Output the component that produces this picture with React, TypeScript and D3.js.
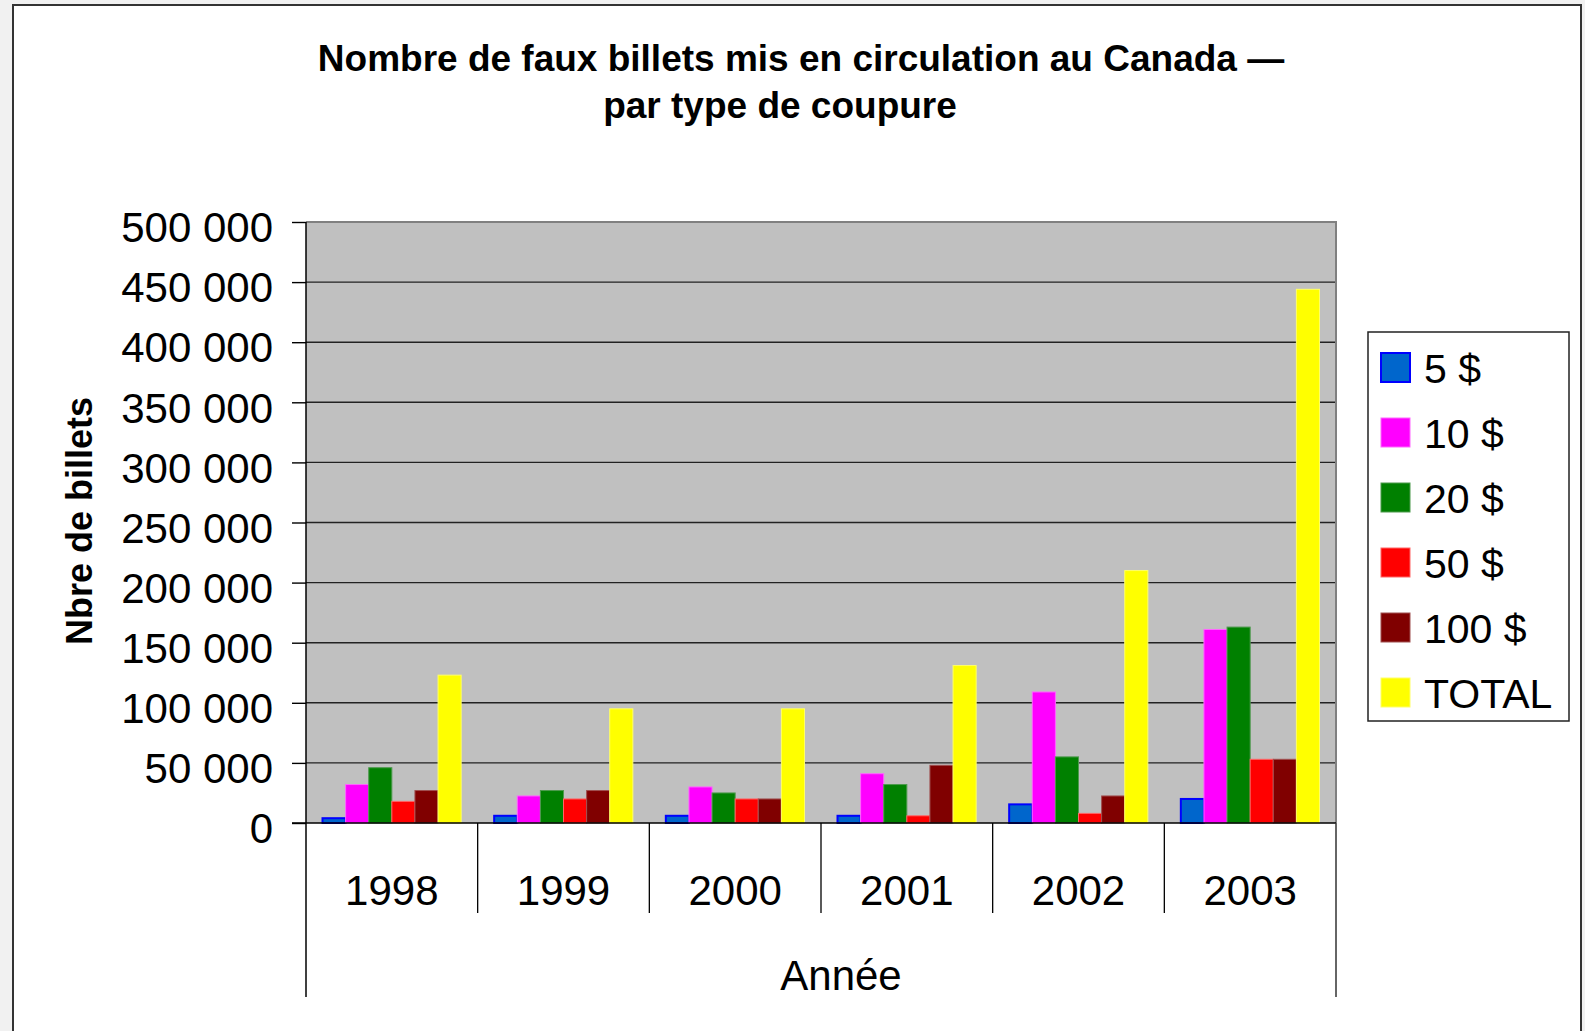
import React, { useRef, useEffect } from "react";
import * as d3 from "d3";

// data
const years = ["1998", "1999", "2000", "2001", "2002", "2003"];
const seriesNames = ["5 $", "10 $", "20 $", "50 $", "100 $", "TOTAL"];
const billets5 = [4000, 6000, 6000, 6000, 15500, 20000];
const billets10 = [32000, 22500, 30000, 41000, 109000, 161000];
const billets20 = [46000, 27000, 25000, 32000, 55000, 163000];
const billets50 = [18000, 20000, 20000, 6000, 8000, 53000];
const billets100 = [27000, 27000, 20000, 48000, 22500, 53000];
const billetsTotal = [123000, 95000, 95000, 131000, 210000, 444000];
const yTicks = [0, 50000, 100000, 150000, 200000, 250000, 300000, 350000, 400000, 450000, 500000];

const fills = ["#0066cc", "#ff00ff", "#008000", "#ff0000", "#800000", "#ffff00"];
const strokes = ["#0000ff", "#ff66ff", "#4d9a4d", "#ff6666", "#a05050", "#ffff66"];

const App = () => {
  const svgRef = useRef<SVGSVGElement>(null);

  useEffect(() => {
    const svg = d3.select(svgRef.current);
    svg.selectAll("*").remove();

    const W = 1585, H = 1031;
    const plot = { left: 306, right: 1336, top: 222, bottom: 823 };
    const font = "'Liberation Sans', Arial, sans-serif";

    const allSeries = [billets5, billets10, billets20, billets50, billets100, billetsTotal];
    const rows = years.map((yr, i) => ({
      year: yr,
      values: allSeries.map((s, k) => ({ k, v: s[i] })),
    }));

    // page background + chart frame
    svg.append("rect").attr("width", W).attr("height", H).attr("fill", "#f1f1f1");
    svg
      .append("rect")
      .attr("x", 13)
      .attr("y", 5)
      .attr("width", 1568)
      .attr("height", H + 20)
      .attr("fill", "white")
      .attr("stroke", "#333")
      .attr("stroke-width", 2);

    const x0 = d3.scaleBand().domain(years).range([plot.left, plot.right]).padding(0);
    const pad = 16.5;
    const x1 = d3
      .scaleBand<number>()
      .domain(d3.range(seriesNames.length))
      .range([pad, x0.bandwidth() - pad])
      .padding(0);
    const y = d3.scaleLinear().domain([0, 500000]).range([plot.bottom, plot.top]);

    const fmt = d3.formatLocale({ decimal: ",", thousands: " ", grouping: [3], currency: ["", " $"] }).format(",");

    // plot area
    svg
      .append("rect")
      .attr("x", plot.left)
      .attr("y", plot.top)
      .attr("width", plot.right - plot.left)
      .attr("height", plot.bottom - plot.top)
      .attr("fill", "#c0c0c0");

    // gridlines
    svg
      .append("g")
      .selectAll("line")
      .data(yTicks.filter((t) => t > 0 && t < 500000))
      .join("line")
      .attr("x1", plot.left)
      .attr("x2", plot.right)
      .attr("y1", (d) => y(d))
      .attr("y2", (d) => y(d))
      .attr("stroke", "#222")
      .attr("stroke-width", 1.4);

    // top + right border of the plot
    svg
      .append("path")
      .attr("d", `M${plot.left},${plot.top}H${plot.right}V${plot.bottom}`)
      .attr("fill", "none")
      .attr("stroke", "#808080")
      .attr("stroke-width", 2);

    // bars
    const groups = svg
      .append("g")
      .selectAll("g")
      .data(rows)
      .join("g")
      .attr("transform", (d) => `translate(${x0(d.year)},0)`);

    groups
      .selectAll("rect")
      .data((d) => d.values)
      .join("rect")
      .attr("x", (d) => x1(d.k)!)
      .attr("y", (d) => y(d.v))
      .attr("width", x1.bandwidth())
      .attr("height", (d) => plot.bottom - y(d.v))
      .attr("fill", (d) => fills[d.k])
      .attr("stroke", (d) => strokes[d.k])
      .attr("stroke-width", (d) => (d.k === 0 ? 2 : 1));

    // y axis
    const yAxis = svg
      .append("g")
      .attr("transform", `translate(${plot.left},0)`)
      .call(d3.axisLeft(y).tickValues(yTicks).tickFormat((d) => fmt(d as number)).tickSize(14).tickPadding(19));
    yAxis.select(".domain").remove();
    yAxis.selectAll("line").attr("stroke", "#000").attr("stroke-width", 1.4);
    yAxis
      .selectAll("text")
      .attr("font-family", font)
      .attr("font-size", 42)
      .attr("fill", "#000")
      .attr("dy", "0.47em");

    // axis lines
    svg
      .append("line")
      .attr("x1", plot.left)
      .attr("x2", plot.left)
      .attr("y1", plot.top)
      .attr("y2", 997)
      .attr("stroke", "#000")
      .attr("stroke-width", 1.5);
    svg
      .append("line")
      .attr("x1", plot.left - 14)
      .attr("x2", plot.right)
      .attr("y1", plot.bottom)
      .attr("y2", plot.bottom)
      .attr("stroke", "#000")
      .attr("stroke-width", 1.5);
    svg
      .append("line")
      .attr("x1", plot.right)
      .attr("x2", plot.right)
      .attr("y1", plot.bottom)
      .attr("y2", 997)
      .attr("stroke", "#333")
      .attr("stroke-width", 1.5);

    // category dividers
    svg
      .append("g")
      .selectAll("line")
      .data(years.slice(1))
      .join("line")
      .attr("x1", (d) => x0(d)!)
      .attr("x2", (d) => x0(d)!)
      .attr("y1", plot.bottom)
      .attr("y2", 913)
      .attr("stroke", "#000")
      .attr("stroke-width", 1.3);

    // year labels
    svg
      .append("g")
      .selectAll("text")
      .data(years)
      .join("text")
      .attr("x", (d) => x0(d)! + x0.bandwidth() / 2)
      .attr("y", 905)
      .attr("text-anchor", "middle")
      .attr("font-family", font)
      .attr("font-size", 42)
      .text((d) => d);

    svg
      .append("text")
      .attr("x", 841)
      .attr("y", 990)
      .attr("text-anchor", "middle")
      .attr("font-family", font)
      .attr("font-size", 42)
      .text("Année");

    // titles
    svg
      .append("text")
      .attr("x", 801)
      .attr("y", 71)
      .attr("text-anchor", "middle")
      .attr("font-family", font)
      .attr("font-weight", "bold")
      .attr("font-size", 37)
      .text("Nombre de faux billets mis en circulation au Canada —");
    svg
      .append("text")
      .attr("x", 780)
      .attr("y", 118)
      .attr("text-anchor", "middle")
      .attr("font-family", font)
      .attr("font-weight", "bold")
      .attr("font-size", 37)
      .text("par type de coupure");

    svg
      .append("text")
      .attr("transform", "translate(92,521) rotate(-90)")
      .attr("text-anchor", "middle")
      .attr("font-family", font)
      .attr("font-weight", "bold")
      .attr("font-size", 36)
      .text("Nbre de billets");

    // legend
    const legend = svg.append("g");
    legend
      .append("rect")
      .attr("x", 1368)
      .attr("y", 332)
      .attr("width", 201)
      .attr("height", 389)
      .attr("fill", "white")
      .attr("stroke", "#222")
      .attr("stroke-width", 1.5);
    const items = legend
      .selectAll("g")
      .data(seriesNames)
      .join("g")
      .attr("transform", (_, i) => `translate(1381,${353 + i * 65})`);
    items
      .append("rect")
      .attr("width", 29)
      .attr("height", 29)
      .attr("fill", (_, i) => fills[i])
      .attr("stroke", (_, i) => strokes[i])
      .attr("stroke-width", (_, i) => (i === 0 ? 2 : 1));
    items
      .append("text")
      .attr("x", 43)
      .attr("y", 30)
      .attr("font-family", font)
      .attr("font-size", 41)
      .text((d) => d);
  }, []);

  return (
    <svg
      ref={svgRef}
      width={1585}
      height={1031}
      style={{ position: "absolute", left: 0, top: 0, display: "block" }}
    ></svg>
  );
};

export default App;
